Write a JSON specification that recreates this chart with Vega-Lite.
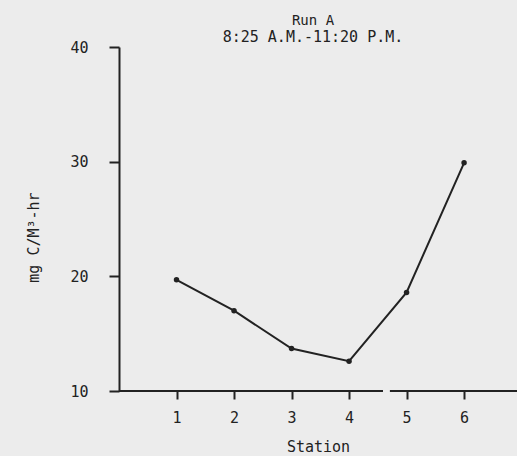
{
  "$schema": "https://vega.github.io/schema/vega-lite/v6.json",
  "width": 398,
  "height": 344,
  "autosize": "none",
  "padding": {"left": 119, "top": 47, "right": 0, "bottom": 65},
  "background": "#ececec",
  "title": {
    "text": "Run A",
    "subtitle": "8:25 A.M.-11:20 P.M.",
    "anchor": "middle",
    "dx": -5,
    "font": "DejaVu Sans Mono",
    "fontSize": 14,
    "fontWeight": "normal",
    "color": "#222",
    "subtitleFont": "DejaVu Sans Mono",
    "subtitleFontSize": 15,
    "subtitleColor": "#222",
    "subtitlePadding": 2,
    "offset": -5
  },
  "config": {
    "view": {"stroke": null},
    "axis": {
      "labelFont": "DejaVu Sans Mono",
      "titleFont": "DejaVu Sans Mono",
      "labelColor": "#222",
      "titleColor": "#222",
      "labelFontSize": 15,
      "titleFontSize": 15,
      "titleFontWeight": "normal",
      "tickColor": "#222",
      "domainColor": "#222",
      "tickWidth": 2,
      "domainWidth": 2,
      "grid": false
    }
  },
  "layer": [
    {
      "data": {"values": [
        {"Station": 1, "value": 19.7},
        {"Station": 2, "value": 17.0},
        {"Station": 3, "value": 13.7},
        {"Station": 4, "value": 12.6},
        {"Station": 5, "value": 18.6},
        {"Station": 6, "value": 29.9}
      ]},
      "mark": {"type": "line", "color": "#222", "strokeWidth": 2, "point": {"filled": true, "size": 30, "color": "#222"}},
      "encoding": {
        "x": {
          "field": "Station", "type": "quantitative",
          "scale": {"domain": [0, 6.92], "nice": false, "zero": false},
          "axis": {"values": [1, 2, 3, 4, 5, 6], "format": "d", "domain": false, "tickSize": 8, "labelPadding": 11, "title": "Station", "titlePadding": 14}
        },
        "y": {
          "field": "value", "type": "quantitative",
          "scale": {"domain": [10, 40], "nice": false, "zero": false},
          "axis": {"values": [10, 20, 30, 40], "tickSize": 10, "labelPadding": 21, "title": "mg C/M³-hr", "titleX": -86, "titleY": 190, "titleAngle": -90, "titleAlign": "center", "titleBaseline": "middle"}
        }
      }
    },
    {
      "data": {"values": [
        {"start": 0, "end": 4.59},
        {"start": 4.71, "end": 6.92}
      ]},
      "mark": {"type": "rule", "color": "#222", "strokeWidth": 2},
      "encoding": {
        "x": {"field": "start", "type": "quantitative"},
        "x2": {"field": "end"},
        "y": {"datum": 10, "type": "quantitative"}
      }
    }
  ]
}
